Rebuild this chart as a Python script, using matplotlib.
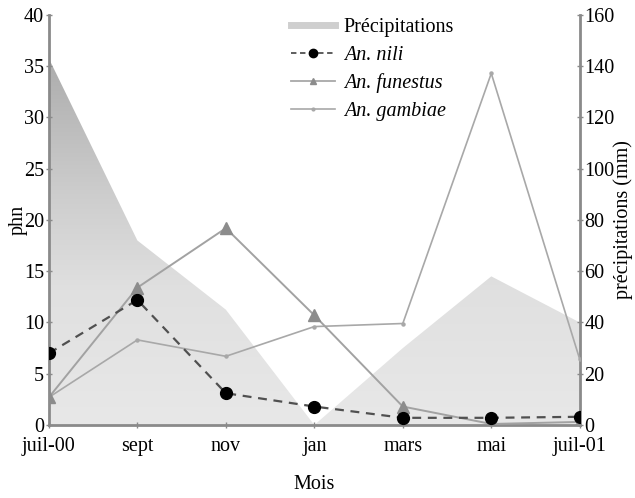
import numpy as np
import matplotlib
matplotlib.use('Agg')
import matplotlib.pyplot as plt
from matplotlib.colors import LinearSegmentedColormap
from matplotlib.lines import Line2D

# data
mois = ['juil-00', 'sept', 'nov', 'jan', 'mars', 'mai', 'juil-01']
precip = [143, 72, 45, 0, 30, 58, 40]          # mm, right axis
nili = [7.0, 12.2, 3.1, 1.8, 0.7, 0.7, 0.8]
funestus = [2.7, 13.4, 19.2, 10.7, 1.8, 0.1, 0.3]
gambiae = [2.7, 8.3, 6.7, 9.6, 9.9, 34.3, 6.4]

plt.rcParams['font.family'] = ['Liberation Serif', 'DejaVu Serif']
plt.rcParams['font.size'] = 14.5

fig = plt.figure(figsize=(6.35, 4.98), dpi=100)
ax2 = fig.add_axes([0.077, 0.1466, 0.836, 0.8234])
ax = fig.add_axes([0.077, 0.1466, 0.836, 0.8234], sharex=ax2)
ax2.yaxis.tick_right()
ax2.yaxis.set_label_position('right')
ax.patch.set_visible(False)

x = np.arange(len(mois))
spine_col = '#8a8a8a'

# precipitation area with vertical gradient
poly = ax2.fill_between(x, 0, precip, color='none', lw=0)
cmap = LinearSegmentedColormap.from_list('g', [(0, '#e8e8e8'), (0.35, '#e0e0e0'),
                                               (0.6, '#cdcdcd'), (1, '#a8a8a8')])
grad = np.linspace(0, 1, 256).reshape(-1, 1)
im = ax2.imshow(grad, cmap=cmap, origin='lower', aspect='auto',
                extent=[0, 6, 0, 150], zorder=1)
path = poly.get_paths()[0]
im.set_clip_path(path, transform=ax2.transData)
ax2.set_ylim(0, 160)
ax2.set_xlim(0, 6)
ax2.set_yticks(np.arange(0, 161, 20))
ax2.set_ylabel('précipitations (mm)', labelpad=-1, fontsize=14.5)

# lines
ax.plot(x, gambiae, color='#a8a8a8', lw=1.2, marker='o', ms=2.2, zorder=3)
ax.plot(x, funestus, color='#a2a2a2', lw=1.4, marker='^', ms=9,
        mfc='#8c8c8c', mec='#8c8c8c', zorder=4)
ax.plot(x, nili, color='#505050', lw=1.6, ls=(0, (4, 3)), marker='o', ms=8.5,
        mfc='black', mec='black', zorder=5)
ax.set_ylim(0, 40)
ax.set_yticks(np.arange(0, 41, 5))
ax.set_xticks(x)
ax.set_xticklabels(mois)
ax.set_ylabel('phn', labelpad=-3, fontsize=14.5)
ax.set_xlabel('Mois', labelpad=14)

for a in (ax, ax2):
    for s in a.spines.values():
        s.set_visible(False)
ax.spines['left'].set_visible(True)
ax.spines['bottom'].set_visible(True)
ax2.spines['right'].set_visible(True)
for a in (ax, ax2):
    for s in a.spines.values():
        s.set_color(spine_col)
        s.set_linewidth(2)
    a.tick_params(direction='inout', length=5, width=1, color=spine_col, pad=1)
ax.tick_params(axis='x', pad=6)
ax2.tick_params(axis='x', bottom=False, labelbottom=False)

handles = [Line2D([], [], color='#cfcfcf', lw=5),
           Line2D([], [], color='#505050', lw=1.3, ls=(0, (3, 2)), marker='o', ms=6,
                  mfc='black', mec='black'),
           Line2D([], [], color='#a8a8a8', lw=1.3, marker='^', ms=5,
                  mfc='#8c8c8c', mec='#8c8c8c'),
           Line2D([], [], color='#a8a8a8', lw=1.2, marker='o', ms=2)]
labels = ['Précipitations', 'An. nili', 'An. funestus', 'An. gambiae']
leg = ax.legend(handles, labels, loc='upper left', bbox_to_anchor=(0.44, 1.012),
                frameon=False, handlelength=2.2, handletextpad=0.45,
                labelspacing=0.42, borderaxespad=0)
for t in leg.get_texts()[1:]:
    t.set_style('italic')

fig.savefig('out.png', dpi=100)
